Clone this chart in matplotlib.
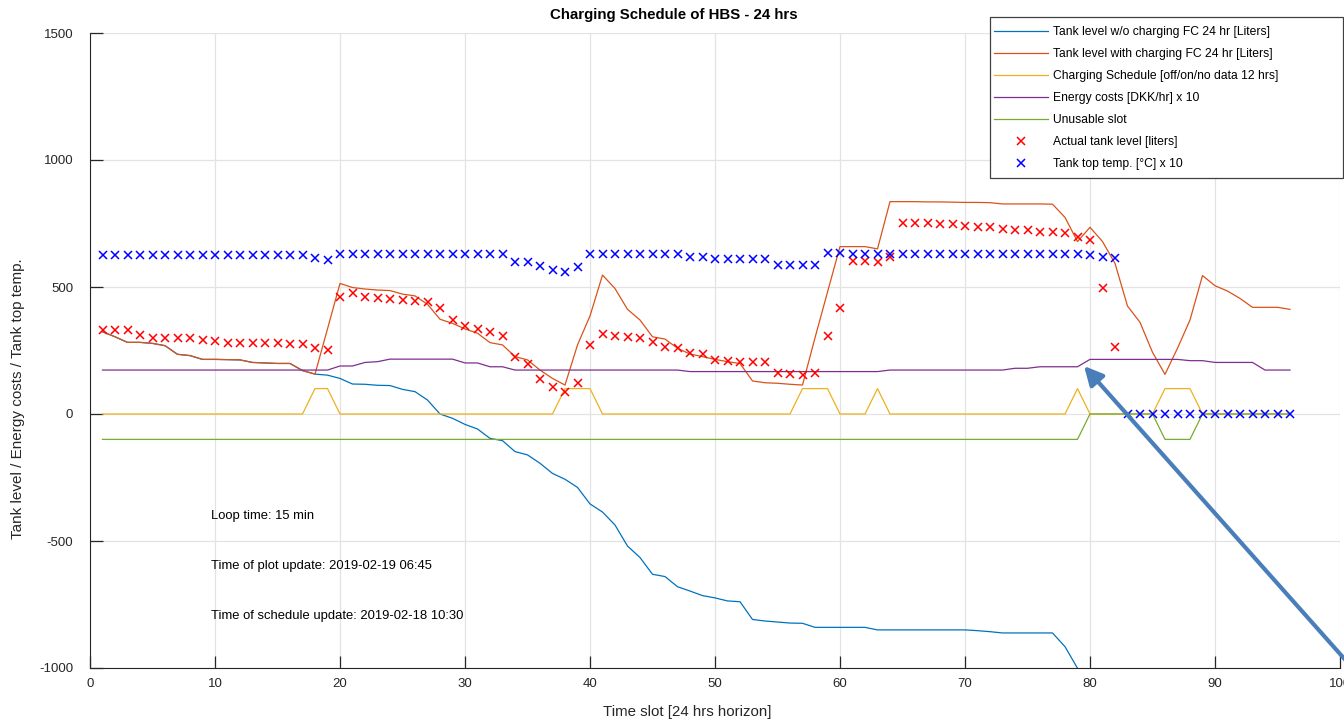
import numpy as np
import matplotlib.pyplot as plt
from matplotlib.patches import Rectangle

plt.rcParams['font.family'] = ['Liberation Sans', 'DejaVu Sans']
plt.rcParams['axes.unicode_minus'] = False

slots = np.arange(1, 97)

# tank level with charging FC (liters)
level_with = [324, 304, 282, 282, 278, 269, 235, 230, 215, 215, 214, 213, 203, 201, 199, 199,
              171, 157, 335, 514, 498, 492, 488, 486, 472, 465, 432, 373, 357, 335, 318, 281,
              272, 226, 213, 173, 140, 114, 272, 386, 547, 494, 412, 370, 304, 295, 259, 236,
              226, 215, 206, 199, 130, 123, 121, 117, 114, 300, 480, 659, 659, 659, 650, 836,
              836, 836, 835, 835, 834, 833, 833, 832, 827, 827, 827, 827, 826, 774, 679, 735,
              679, 593, 425, 361, 243, 156, 259, 370, 545, 505, 484, 455, 420, 420, 420, 412]

# tank level without charging (slots 1..79, then below the axis)
level_without = [324, 304, 282, 282, 278, 269, 235, 230, 215, 215, 214, 213, 203, 201, 199, 199,
                 171, 157, 153, 140, 118, 117, 113, 112, 97, 88, 55, 0, -17, -41, -59, -96,
                 -105, -148, -161, -194, -234, -257, -289, -354, -386, -437, -520, -565, -631, -640, -680, -697,
                 -715, -724, -736, -739, -809, -815, -819, -823, -824, -840, -840, -840, -840, -840, -850, -850,
                 -850, -850, -850, -850, -850, -850, -853, -857, -862, -862, -862, -862, -862, -916, -1001]

schedule = np.zeros(96)
schedule[np.array([18, 19, 38, 39, 40, 57, 58, 59, 63, 79, 86, 87, 88]) - 1] = 100

energy_cost = ([173] * 19 + [189, 189, 203, 206] + [216] * 6 + [201, 201, 186, 186] + [173] * 14
               + [167] * 16 + [173] * 10 + [180, 180] + [186] * 4 + [215] * 8 + [210, 210]
               + [203] * 4 + [173] * 3)

unusable = [-100] * 79 + [0] * 6 + [-100] * 3 + [0] * 8

actual_level = [331, 331, 331, 311, 301, 298, 298, 298, 291, 289, 281, 281, 281, 281, 278, 276,
                276, 259, 252, 459, 475, 462, 455, 453, 449, 446, 442, 416, 370, 346, 336, 324,
                307, 223, 197, 137, 105, 87, 123, 273, 315, 309, 304, 298, 285, 265, 259, 241,
                236, 213, 209, 206, 206, 206, 160, 156, 154, 160, 307, 419, 604, 604, 600, 620,
                751, 751, 751, 748, 748, 741, 737, 737, 728, 724, 724, 718, 718, 714, 698, 687,
                498, 265]

top_temp = ([626] * 17 + [615, 606] + [630] * 14 + [600, 597, 584, 567, 558, 577] + [629] * 8
            + [619, 619] + [610] * 5 + [587] * 4 + [633, 633] + [629] * 19 + [626, 617, 613]
            + [0] * 14)

fig = plt.figure(figsize=(13.44, 7.21), dpi=100)
ax = fig.add_axes([90 / 1344, 53 / 721, 1250 / 1344, 635 / 721])

ax.plot(slots[:len(level_without)], level_without, color='#0072BD', lw=0.9,
        label='Tank level w/o charging FC 24 hr [Liters]')
ax.plot(slots, level_with, color='#D95319', lw=0.9,
        label='Tank level with charging FC 24 hr [Liters]')
ax.plot(slots, schedule, color='#EDB120', lw=0.9,
        label='Charging Schedule [off/on/no data 12 hrs]')
ax.plot(slots, energy_cost, color='#7E2F8E', lw=0.9, label='Energy costs [DKK/hr] x 10')
ax.plot(slots, unusable, color='#77AC30', lw=0.9, label='Unusable slot')
ax.plot(slots[:len(actual_level)], actual_level, 'x', color='red', ms=6, mew=1.1,
        label='Actual tank level [liters]')
ax.plot(slots, top_temp, 'x', color='blue', ms=6, mew=1.1,
        label='Tank top temp. [\u00b0C] x 10')

ax.set_xlim(0, 100)
ax.set_ylim(-1000, 1500)
ax.set_xticks(range(0, 101, 10))
ax.set_yticks(range(-1000, 1501, 500))
ax.grid(True, color='#e3e3e3', lw=0.9)
ax.set_axisbelow(True)
for s in ['top', 'right']:
    ax.spines[s].set_visible(False)
for s in ['left', 'bottom']:
    ax.spines[s].set_color('#262626')
ax.tick_params(direction='in', length=9, width=0.9, color='#262626', labelcolor='#262626',
               labelsize=9.5)
ax.tick_params(axis='x', pad=7)
ax.tick_params(axis='y', pad=12)

ax.text(9.7, -402, 'Loop time: 15 min', fontsize=9.4, va='center')
ax.text(9.7, -598, 'Time of plot update: 2019-02-19 06:45', fontsize=9.4, va='center')
ax.text(9.7, -795, 'Time of schedule update: 2019-02-18 10:30', fontsize=9.4, va='center')

fig.text(674 / 1344, 1 - 15 / 721, 'Charging Schedule of HBS - 24 hrs', ha='center', va='center',
         fontsize=10.8, fontweight='bold')
fig.text(687 / 1344, 1 - 712 / 721, 'Time slot [24 hrs horizon]', ha='center', va='center',
         fontsize=10.8, color='#262626')
fig.text(18 / 1344, 1 - 399 / 721, 'Tank level / Energy costs / Tank top temp.', ha='center',
         va='center', rotation=90, fontsize=11, color='#262626')

leg = fig.legend(loc='upper left', bbox_to_anchor=(990 / 1344, 1 - 22.5 / 721), fontsize=8.7,
                 frameon=False, handlelength=4.5, handletextpad=0.45, labelspacing=0.83,
                 borderpad=0.3, borderaxespad=0)
fig.add_artist(Rectangle((990 / 1344, 1 - 178 / 721), 353 / 1344, 161 / 721,
                         transform=fig.transFigure, facecolor='white', edgecolor='#404040',
                         lw=0.9, zorder=leg.get_zorder() - 0.1))

ax.annotate('', xy=(1084, 721 - 366), xycoords='figure pixels',
            xytext=(1365, 721 - 682), textcoords='figure pixels',
            arrowprops=dict(arrowstyle='-|>', color='#4a7ebb', lw=3, mutation_scale=28,
                            shrinkA=0, shrinkB=0))

fig.savefig('out.png', dpi=100)
